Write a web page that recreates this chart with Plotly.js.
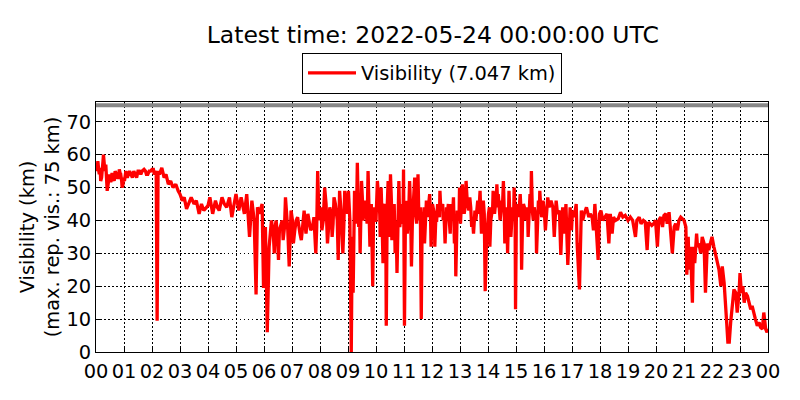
<!DOCTYPE html>
<html>
<head>
<meta charset="utf-8">
<script src="https://cdn.plot.ly/plotly-3.0.1.min.js"></script>
<style>
  html, body { margin: 0; padding: 0; background: #fff; }
  #chart { width: 800px; height: 400px; }
</style>
</head>
<body>
<div id="chart"></div>
<script>
// minutes after 2022-05-23 00:00 UTC
const minutes = [
  0, 2, 4, 7, 10, 13, 16, 19, 21, 24, 27, 30, 34, 37, 41, 46, 50, 53, 56, 59,
  62, 67, 72, 78, 84, 90, 96, 103, 108, 114, 120, 125, 129, 131, 133, 136, 141, 146, 150, 155,
  160, 165, 171, 176, 180, 185, 189, 194, 199, 204, 210, 215, 221, 226, 231, 236,
  240, 244, 250, 256, 260, 264, 270, 275, 280, 286, 291, 296, 300, 306, 311, 318, 323, 329, 334, 339,
  343, 346, 350, 356, 359, 363, 367, 371, 376, 382, 386, 391, 396, 401, 406, 411, 414, 418, 423, 429,
  434, 440, 446, 450, 457, 464, 471, 475, 478,
  479, 484, 490, 496, 501, 506, 510, 515, 519, 522, 529, 533, 539, 541, 544, 547, 551, 554, 558, 560,
  563, 566, 569, 572, 576, 579, 583, 587, 590, 593, 597, 603, 606, 609, 611, 615, 619, 622, 626, 629,
  631, 634, 639, 641, 645, 649, 653, 656, 659, 661, 664, 667, 672, 676, 679, 683, 687, 690, 693, 697,
  701, 704, 708, 711, 715, 718,
  721, 723, 726, 730, 734, 737, 741, 744, 748, 751, 755, 759, 762, 766, 768, 771, 776, 779, 781, 785,
  789, 793, 797, 801, 805, 809, 812, 816, 819, 823, 826, 830, 834, 837, 841, 844, 848, 851, 856, 859,
  862, 866, 869, 873, 876, 880, 882, 885, 889, 893, 896, 899, 901, 905, 909, 912, 916, 919, 923, 926,
  930, 933, 937, 941, 944, 948, 951, 955, 958,
  961, 963, 968, 971, 975, 979, 982, 986, 989, 993, 996, 1000, 1004, 1007, 1011, 1016, 1019, 1021, 1025, 1029,
  1031, 1036, 1040, 1043, 1046, 1051, 1056, 1059, 1063, 1066, 1069, 1071, 1076, 1079, 1082, 1086, 1090, 1095, 1099, 1102,
  1106, 1109, 1113, 1119, 1124, 1129, 1134, 1140, 1145, 1150, 1156, 1159, 1164, 1168, 1173, 1177, 1181, 1184, 1191, 1195,
  1199, 1203, 1206, 1210, 1214, 1217, 1221, 1224, 1228, 1231, 1235, 1239, 1242, 1246, 1249, 1253, 1256, 1260, 1264, 1266,
  1269, 1271, 1274, 1278, 1280, 1283, 1287, 1289, 1292, 1296, 1299, 1303, 1306, 1310, 1313, 1317, 1320, 1324, 1328, 1331,
  1335, 1339, 1342, 1346, 1349, 1351, 1354, 1357, 1360, 1364, 1367, 1371, 1374, 1378, 1380, 1383, 1386, 1389, 1392, 1396,
  1399, 1403, 1406, 1410, 1413, 1417, 1421, 1424, 1428, 1431, 1435, 1438, 1440
];

// visibility, km
const visibility = [
  56, 55, 58, 54, 52, 57, 60, 55, 57, 49, 53, 52, 54, 53, 55, 53, 55.5, 54, 50, 53,
  54, 53, 55, 53, 54, 55, 54, 55.5, 54, 55, 55.5, 54, 55, 9.5, 55, 54, 56, 53, 54, 51,
  52, 50, 51, 49, 48, 46, 47, 43.5, 45, 47, 45, 46, 42, 45, 43, 44,
  44.5, 47, 42, 46, 44, 43, 47, 45, 44, 47, 41, 45, 48, 43, 47, 42, 48, 35, 46, 40,
  17.5, 44, 42, 45, 19.5, 38, 6, 32, 40, 30, 40, 28, 39, 34, 47, 37, 26, 43, 33, 40,
  38, 34, 43, 36, 40, 38, 30, 55, 40,
  42, 37, 50, 33, 44, 35, 47, 43, 28, 49, 30, 49, 42, 49, 40, 0, 18, 49, 39, 57.5,
  38, 30, 52, 40, 46, 40, 55, 32, 45, 20, 40, 52, 44, 35, 50, 27, 45, 8, 52, 35,
  54, 34, 45, 30, 24, 52, 42, 39, 55.5, 8, 46, 36, 52, 26, 42, 53, 39, 54, 42, 10,
  40, 33, 46, 41, 48, 32,
  45, 43, 32, 40, 42, 49, 44, 40, 33, 44, 45, 36, 44, 47, 33, 23, 40, 50, 39, 51,
  42, 52, 45, 47, 38, 36, 43, 44, 42, 49, 36, 46, 18.5, 35, 42, 32, 43, 49, 45, 51,
  48, 40, 46, 52, 33, 44, 30, 49, 35, 44, 50, 13, 45, 41, 48, 25, 45, 42, 44, 35,
  48, 55, 40, 42, 30, 46, 49, 41, 46,
  42, 37, 47, 44, 46, 44, 35, 46, 42, 43, 29.5, 44, 36, 45, 26.5, 44, 37, 43, 41, 45,
  33, 19, 43, 40, 42, 44, 41, 42, 41, 37, 45, 39, 28, 42, 43, 40, 41, 42, 33, 42,
  36, 41, 40, 40.5, 42.5, 41, 41.5, 40, 41, 40, 35, 40, 41, 39, 40, 39.5, 31, 39.5, 38.5, 39,
  40, 32, 40, 41, 38, 41.5, 42, 39, 42.5, 36, 30, 38, 39, 37, 40, 41, 40.5, 40, 38, 23.5,
  35, 25, 32, 15, 32, 27, 36, 32, 33, 30, 35, 33, 18, 33, 31, 33, 35, 32, 29, 28,
  25, 20, 26, 21, 16, 10, 3, 3, 9, 16, 19, 18, 12, 18, 24, 18, 20, 15, 18, 17,
  15, 13, 14, 11, 10, 8, 9, 7.5, 7, 12, 7, 6, 7.047
];

// further readings of the dense noise band (same units), merged in by time
const bandMinutes = [
  1, 3, 6, 9, 12, 15, 18, 23, 26, 29, 32, 36, 39, 44, 48, 52, 55, 58, 61, 64,
  70, 75, 81, 87, 93, 99, 106, 111, 117, 123,
  380, 384, 389, 393, 399, 404, 409, 416, 421, 426,
  432, 437, 443, 448, 454, 460, 467, 473,
  482, 487, 493, 499, 504, 508, 513, 517, 525, 531, 536,
  549, 556, 562, 565, 568, 571, 574, 578, 581, 585, 589, 595, 600, 605,
  608, 613, 617, 621, 624, 628, 633, 637, 643, 647, 651, 655, 658, 663, 666, 670,
  674, 678, 681, 685, 689, 692, 695, 699, 703, 706, 710, 713, 717,
  725, 728, 732, 736, 739, 743, 746, 750, 753, 757, 761, 764, 770, 774, 778, 783, 787,
  791, 795, 799, 803, 807, 811, 814, 818, 821, 825, 828, 832, 839, 843, 846, 850, 854, 857,
  861, 864, 868, 871, 875, 878, 884, 887, 891, 895, 898, 903, 907, 911, 914, 918, 921, 925, 928,
  932, 935, 939, 943, 946, 950, 953, 957
];
const bandVisibility = [
  57, 56, 55, 56, 53, 58, 57, 52, 51, 54, 52, 54, 52, 54, 53, 54, 52, 51, 52, 55,
  54, 54, 55, 53, 55, 55, 55, 54, 55, 55.5,
  36, 38, 35, 37, 40, 38, 42, 38, 40, 37,
  41, 36, 40, 39, 42, 37, 41, 38,
  44, 40, 45, 39, 42, 39, 45, 40, 43, 38, 45,
  35, 42, 45, 40, 44, 46, 42, 44, 39, 43, 40, 44, 40, 47,
  42, 40, 44, 38, 44, 42, 46, 40, 40, 44, 38, 45, 41, 40, 44, 42,
  44, 40, 47, 42, 45, 40, 44, 42, 44, 40, 43, 45, 40,
  42, 40, 45, 41, 43, 45, 41, 40, 42, 40, 45, 41, 38, 43, 41, 44, 46,
  44, 47, 43, 44, 40, 42, 40, 46, 44, 41, 43, 42, 40, 44, 40, 44, 42, 44,
  44, 42, 43, 44, 42, 40, 42, 41, 40, 42, 44, 43, 44, 42, 40, 44, 40, 42, 43,
  44, 43, 44, 40, 43, 42, 44, 42
];

const dayStart = '2022-05-23';
const dayEnd = '2022-05-24';
const latest = visibility[visibility.length - 1];

function pad(n) { return (n < 10 ? '0' : '') + n; }
function stamp(m) {
  const day = m >= 1440 ? dayEnd : dayStart;
  const mm = m % 1440;
  return day + ' ' + pad(Math.floor(mm / 60)) + ':' + pad(mm % 60);
}

// merge both sets of readings in time order
const rows = minutes.map((m, i) => [m, visibility[i]])
  .concat(bandMinutes.map((m, i) => [m, bandVisibility[i]]))
  .sort((a, b) => a[0] - b[0]);

const trace = {
  x: rows.map(r => stamp(r[0])),
  y: rows.map(r => r[1]),
  type: 'scatter',
  mode: 'lines',
  name: 'Visibility (' + latest.toFixed(3) + ' km)',
  line: { color: '#ff0000', width: 3.3 }
};

const font = { family: 'DejaVu Sans, sans-serif', size: 19.4, color: '#000' };

const layout = {
  width: 800,
  height: 400,
  margin: { l: 96, r: 32, t: 102, b: 48 },
  paper_bgcolor: '#fff',
  plot_bgcolor: '#fff',
  font: font,
  title: {
    text: 'Latest time: 2022-05-24 00:00:00 UTC',
    font: { family: 'DejaVu Sans, sans-serif', size: 23.5, color: '#000' },
    x: 0.541, xanchor: 'center',
    y: 0.913, yanchor: 'middle'
  },
  showlegend: true,
  legend: {
    x: 0.5, xanchor: 'center',
    y: 1.197, yanchor: 'top',
    orientation: 'h',
    bordercolor: '#000',
    borderwidth: 1,
    bgcolor: '#fff',
    font: font,
    itemwidth: 48
  },
  xaxis: {
    type: 'date',
    range: [dayStart + ' 00:00', dayEnd + ' 00:00'],
    tick0: dayStart + ' 00:00',
    dtick: 3600000,
    tickformat: '%H',
    ticks: 'inside',
    ticklen: 5,
    tickcolor: '#000',
    ticklabelstandoff: 2,
    showline: true,
    linecolor: '#000',
    linewidth: 1,
    mirror: 'ticks',
    showgrid: true,
    gridcolor: '#000',
    griddash: '1.5px,2.5px',
    gridwidth: 1,
    zeroline: false,
    tickfont: font
  },
  yaxis: {
    range: [0, 76],
    tick0: 0,
    dtick: 10,
    ticks: 'inside',
    ticklen: 5,
    tickcolor: '#000',
    showline: true,
    linecolor: '#000',
    linewidth: 1,
    mirror: 'ticks',
    showgrid: true,
    gridcolor: '#000',
    griddash: '1.5px,2.5px',
    gridwidth: 1,
    zeroline: false,
    tickfont: font,
    title: {
      text: 'Visibility (km)<br>(max. rep. vis.: 75 km)',
      font: font,
      standoff: 1
    }
  },
  shapes: [{
    type: 'line',
    xref: 'paper', x0: 0, x1: 1,
    yref: 'y', y0: 75, y1: 75,
    line: { color: '#888', width: 4 }
  }]
};

Plotly.newPlot('chart', [trace], layout, { displayModeBar: false, staticPlot: true });
</script>
</body>
</html>
